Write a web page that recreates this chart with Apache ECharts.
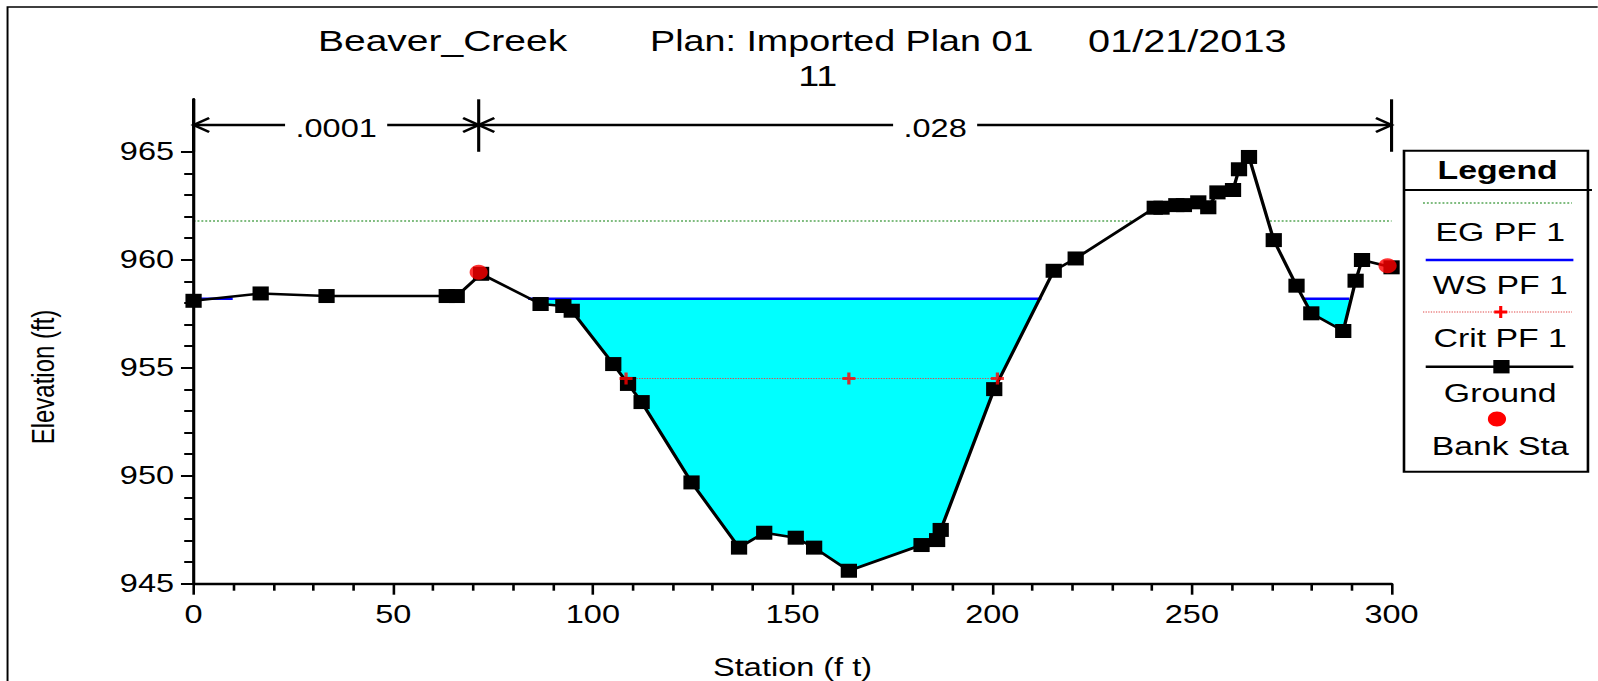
<!DOCTYPE html>
<html>
<head>
<meta charset="utf-8">
<title>Beaver_Creek cross section 11</title>
<script src="https://cdn.jsdelivr.net/npm/echarts@6/dist/echarts.min.js"></script>
<style>
  html, body { margin: 0; padding: 0; background: #fff; overflow: hidden; }
  /* the plot is laid out narrow and widened, giving the broad HEC-RAS lettering */
  #chart { width: 1229.23px; height: 681px; transform: scaleX(1.3); transform-origin: 0 0; }
</style>
</head>
<body>
<div id="chart"></div>
<script>
// ---- Cross section 11: ground survey (station ft, elevation ft) ----
const groundStation = [0, 16.8, 33.3, 63.4, 65.9, 72.0, 86.9, 92.6, 94.7, 105.1,
  108.8, 112.2, 124.7, 136.6, 142.9, 150.8, 155.4, 164.1, 182.3, 186.2,
  187.1, 200.5, 215.4, 220.9, 240.7, 242.4, 246.1, 248.0, 251.6, 254.1,
  256.4, 260.3, 261.8, 264.3, 270.5, 276.2, 279.9, 287.9, 291.0, 292.6, 300.0];
const groundElev = [958.10, 958.44, 958.32, 958.32, 958.32, 959.35, 957.95, 957.86, 957.64, 955.17,
  954.25, 953.41, 949.69, 946.67, 947.36, 947.13, 946.67, 945.60, 946.79, 947.02,
  947.49, 954.01, 959.49, 960.06, 962.41, 962.41, 962.53, 962.53, 962.66, 962.43,
  963.12, 963.23, 964.19, 964.76, 960.91, 958.80, 957.52, 956.70, 959.03, 959.99, 959.65];

// bank stations
const bankStation = [71.4, 299.0];
const bankElev = [959.42, 959.72];

// profile PF 1
const egElev = 961.8;
const egExtent = [0, 300];
const wsElev = 958.2;
const wsExtents = [[0, 9.8], [83.8, 212.3], [277.8, 289.4]];
const critElev = 954.5;
const critStation = [108.3, 164.1, 201.3];

// Manning's n regions
const nBreaks = [0, 71.4, 300];
const nValues = ['.0001', '.028'];

// axis ticks
const xTicks = [0, 50, 100, 150, 200, 250, 300];
const yMajorTicks = [945, 950, 955, 960, 965];
const yMinorTicks = [946, 947, 948, 949, 951, 952, 953, 954, 956, 957, 958, 959, 961, 962, 963, 964];

// ---- layout / style ----
const FONT = '"Liberation Sans", Arial, Helvetica, sans-serif';
const Y_MIN = 945, Y_MAX = 967.43;
const ARROW_ELEV = 966.24;      // level of the n-value dimension arrows
const BREAK_BASE_ELEV = 965.0;  // lower end of the n-break markers
const AH = 12, AW = 7;          // arrowhead length / half-width
const PLUS = 'path://M0,4.5H4.5V0H7.5V4.5H12V7.5H7.5V12H4.5V7.5H0Z';

const pts = (xs, ys) => xs.map((x, i) => [x, ys[i]]);
const ground = pts(groundStation, groundElev);

const chart = echarts.init(document.getElementById('chart'), null, { renderer: 'svg', width: 1229.23, height: 681 });

const series = [];

// water between the surface and the ground (masked below the ground line)
wsExtents.forEach(function (e) {
  series.push({
    type: 'line', z: 1, silent: true, symbol: 'none',
    data: [[e[0], wsElev], [e[1], wsElev]],
    lineStyle: { width: 0, opacity: 0 },
    areaStyle: { color: '#00ffff', opacity: 1, origin: 'start' }
  });
});

// energy grade line
series.push({
  type: 'line', z: 2, silent: true, symbol: 'none',
  data: egExtent.map(s => [s, egElev]),
  lineStyle: { color: '#007a00', width: 1, type: [1.5, 1.5] }
});

// everything below the ground is solid earth
series.push({
  type: 'line', z: 3, silent: true, symbol: 'none',
  data: ground,
  lineStyle: { width: 0, opacity: 0 },
  areaStyle: { color: '#ffffff', opacity: 1, origin: 'start' }
});

// critical depth line
series.push({
  type: 'line', z: 4, silent: true, symbol: 'none',
  data: [[critStation[0], critElev], [critStation[critStation.length - 1], critElev]],
  lineStyle: { color: '#e04848', width: 1, type: [1, 1] }
});

// water surface
wsExtents.forEach(function (e) {
  series.push({
    type: 'line', z: 5, silent: true, symbol: 'none',
    data: [[e[0], wsElev], [e[1], wsElev]],
    lineStyle: { color: '#0000ff', width: 2.5 }
  });
});

// ground
series.push({
  type: 'line', z: 6, silent: true, clip: false,
  data: ground,
  symbol: 'rect', symbolSize: [12.5, 14],
  itemStyle: { color: '#000' },
  lineStyle: { color: '#000', width: 2.6 }
});

// bank stations
series.push({
  type: 'scatter', z: 7, silent: true, clip: false,
  data: pts(bankStation, bankElev),
  symbol: 'circle', symbolSize: [14, 15],
  itemStyle: { color: '#ff0000' }
});

// critical depth markers
series.push({
  type: 'scatter', z: 8, silent: true,
  data: critStation.map(s => [s, critElev]),
  symbol: PLUS, symbolSize: [10, 12],
  itemStyle: { color: '#ff0000' }
});

// Manning's n dimension arrows
series.push({
  type: 'custom', z: 9, silent: true, clip: false,
  data: nValues.map((v, i) => [nBreaks[i], nBreaks[i + 1]]),
  encode: { x: [0, 1] },
  renderItem: function (params, api) {
    const i = params.dataIndex;
    const a = api.coord([api.value(0), ARROW_ELEV]);
    const b = api.coord([api.value(1), ARROW_ELEV]);
    const yTop = api.coord([0, Y_MAX])[1];
    const yBase = api.coord([0, BREAK_BASE_ELEV])[1];
    const y = a[1];
    const ls = { stroke: '#000', lineWidth: 2.4, fill: 'none' };
    const children = [
      { type: 'line', shape: { x1: a[0], y1: y, x2: b[0], y2: y }, style: ls },
      { type: 'polyline', shape: { points: [[a[0] + AH, y - AW], [a[0], y], [a[0] + AH, y + AW]] }, style: ls },
      { type: 'polyline', shape: { points: [[b[0] - AH, y - AW], [b[0], y], [b[0] - AH, y + AW]] }, style: ls },
      { type: 'line', shape: { x1: b[0], y1: yTop, x2: b[0], y2: yBase }, style: ls },
      {
        type: 'text', x: (a[0] + b[0]) / 2, y: y + 3,
        style: {
          text: nValues[i], fill: '#000', fontSize: 25, fontFamily: FONT,
          align: 'center', verticalAlign: 'middle',
          backgroundColor: '#fff', padding: [0, 8]
        }
      }
    ];
    if (i === 0) {
      children.push({ type: 'line', shape: { x1: a[0], y1: yTop, x2: a[0], y2: yBase }, style: ls });
    }
    return { type: 'group', children: children };
  }
});

const axisLine = { show: true, lineStyle: { color: '#000', width: 2.4 } };
const labelStyle = { color: '#000', fontSize: 25, fontFamily: FONT };

// legend box
const LX = 1080, LW = 141.5, LC = 1154;
const legendText = (t, y) => ({ type: 'text', x: LC, y: y, style: { text: t, fontSize: 26, fontFamily: FONT, fill: '#000', align: 'center', verticalAlign: 'middle' } });
const legendItems = [
  { type: 'rect', shape: { x: LX, y: 150.7, width: LW, height: 321 }, style: { fill: '#fff', stroke: '#000', lineWidth: 2 } },
  { type: 'line', shape: { x1: LX, y1: 190, x2: 1224.6, y2: 190 }, style: { stroke: '#000', lineWidth: 2 } },
  { type: 'text', x: 1152, y: 170, style: { text: 'Legend', fontSize: 26, fontWeight: 'bold', fontFamily: FONT, fill: '#000', align: 'center', verticalAlign: 'middle' } },
  { type: 'line', shape: { x1: 1094.6, y1: 203, x2: 1209.2, y2: 203 }, style: { stroke: '#007a00', lineWidth: 1, lineDash: [1.5, 1.5] } },
  legendText('EG PF 1', 232),
  { type: 'line', shape: { x1: 1096.7, y1: 260, x2: 1210.3, y2: 260 }, style: { stroke: '#0000ff', lineWidth: 2.5 } },
  legendText('WS PF 1', 285),
  { type: 'line', shape: { x1: 1094.6, y1: 312, x2: 1209.2, y2: 312 }, style: { stroke: '#e04848', lineWidth: 1, lineDash: [1, 1] } },
  { type: 'rect', shape: { x: 1149.4, y: 310.5, width: 10, height: 3 }, style: { fill: '#ff0000' } },
  { type: 'rect', shape: { x: 1153.2, y: 306, width: 2.4, height: 12 }, style: { fill: '#ff0000' } },
  legendText('Crit PF 1', 338),
  { type: 'line', shape: { x1: 1096.7, y1: 366.7, x2: 1210.3, y2: 366.7 }, style: { stroke: '#000', lineWidth: 2.5 } },
  { type: 'rect', shape: { x: 1148.7, y: 360, width: 12.5, height: 13.4 }, style: { fill: '#000' } },
  legendText('Ground', 393),
  { type: 'ellipse', shape: { cx: 1151.5, cy: 419, rx: 7, ry: 7.5 }, style: { fill: '#ff0000' } },
  legendText('Bank Sta', 446)
];

const titleStyle = { fontSize: 29, fontFamily: FONT, fill: '#000', verticalAlign: 'middle' };

chart.setOption({
  animation: false,
  backgroundColor: '#fff',
  grid: { left: 148.9, right: 158.8, top: 99.3, bottom: 97.3, outerBoundsMode: 'none' },
  xAxis: {
    type: 'value', min: xTicks[0], max: xTicks[xTicks.length - 1], interval: 50, z: 10,
    name: 'Station (f t)', nameLocation: 'middle', nameGap: 71,
    nameTextStyle: { color: '#000', fontSize: 25, fontFamily: FONT },
    axisLine: axisLine,
    axisTick: { show: true, length: 11, lineStyle: { color: '#000', width: 2 } },
    minorTick: { show: true, splitNumber: 5, length: 7, lineStyle: { color: '#000', width: 2 } },
    axisLabel: Object.assign({ margin: 18 }, labelStyle),
    splitLine: { show: false }
  },
  yAxis: [
    {
      type: 'value', min: Y_MIN, max: Y_MAX, z: 10,
      axisLine: axisLine,
      axisTick: { show: true, length: 9.7, customValues: yMajorTicks, lineStyle: { color: '#000', width: 2 } },
      axisLabel: Object.assign({ margin: 15, customValues: yMajorTicks, padding: [12, 0, 0, 0] }, labelStyle),
      splitLine: { show: false }
    },
    {
      type: 'value', min: Y_MIN, max: Y_MAX, position: 'left', z: 10,
      axisLine: { show: false },
      axisTick: { show: true, length: 7.2, customValues: yMinorTicks, lineStyle: { color: '#000', width: 2 } },
      axisLabel: { show: false },
      splitLine: { show: false }
    }
  ],
  graphic: [
    // page frame
    { type: 'rect', shape: { x: 5.8, y: 7, width: 1400, height: 800 }, style: { fill: 'none', stroke: '#000', lineWidth: 1.5 }, z: 0 },
    { type: 'text', x: 244.6, y: 41, style: Object.assign({ text: 'Beaver_Creek', align: 'left' }, titleStyle, { fontSize: 30 }) },
    { type: 'text', x: 500, y: 41, style: Object.assign({ text: 'Plan: Imported Plan 01', align: 'left' }, titleStyle) },
    { type: 'text', x: 837, y: 41, style: Object.assign({ text: '01/21/2013', align: 'left' }, titleStyle, { fontSize: 30.5 }) },
    { type: 'text', x: 629, y: 76.5, style: Object.assign({ text: '11', align: 'center' }, titleStyle) },
    // vertical axis title
    { type: 'text', x: 33, y: 377, rotation: Math.PI / 2, style: { text: 'Elevation (ft)', fontSize: 24, fontFamily: FONT, fill: '#000', align: 'center', verticalAlign: 'middle' } },
    { type: 'group', children: legendItems, z: 20 }
  ],
  series: series
});
</script>
</body>
</html>
